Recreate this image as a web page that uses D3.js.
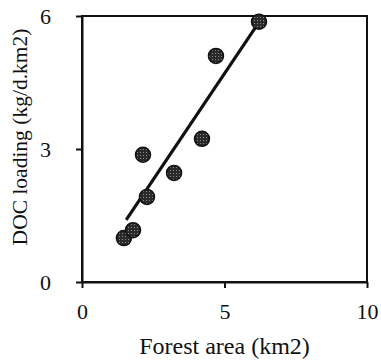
<!DOCTYPE html>
<html>
<head>
<meta charset="utf-8">
<script src="https://cdn.jsdelivr.net/npm/d3@7"></script>
<style>
  body { margin: 0; background: #fff; }
  text { font-family: "Liberation Serif", "Times New Roman", serif; fill: #111; }
</style>
</head>
<body>
<svg id="chart" width="381" height="363"></svg>
<script>
// data
var forestArea = [1.47, 1.79, 2.14, 2.28, 3.23, 4.21, 4.70, 6.21];
var docLoading = [0.99, 1.17, 2.87, 1.92, 2.46, 3.23, 5.10, 5.87];
var fitX = [1.55, 6.2];
var fitY = [1.40, 5.85];
var xTicks = [0, 5, 10];
var yTicks = [0, 3, 6];

var serif = '"Liberation Serif", "Times New Roman", serif';

var svg = d3.select("#chart"),
    margin = {top: 16, right: 14, bottom: 81, left: 82},
    width = +svg.attr("width") - margin.left - margin.right,
    height = +svg.attr("height") - margin.top - margin.bottom;

var x = d3.scaleLinear().domain([0, 10]).range([0, width]);
var y = d3.scaleLinear().domain([0, 6]).range([height, 0]);

var g = svg.append("g")
    .attr("transform", "translate(" + margin.left + "," + margin.top + ")");

// frame
g.append("rect")
    .attr("width", width)
    .attr("height", height)
    .attr("fill", "none")
    .attr("stroke", "#111")
    .attr("stroke-width", 2);

// axes
var xAxis = g.append("g")
    .attr("transform", "translate(0," + height + ")")
    .call(d3.axisBottom(x).tickValues(xTicks).tickFormat(d3.format("d"))
        .tickSize(6).tickSizeOuter(0).tickPadding(15));
var yAxis = g.append("g")
    .call(d3.axisLeft(y).tickValues(yTicks).tickFormat(d3.format("d"))
        .tickSize(6).tickSizeOuter(0).tickPadding(25));

[xAxis, yAxis].forEach(function (a) {
    a.attr("font-family", serif).attr("font-size", 22);
    a.select(".domain").attr("stroke", "#111").attr("stroke-width", 2);
    a.selectAll(".tick line").attr("stroke", "#111").attr("stroke-width", 2);
    a.selectAll(".tick text").attr("fill", "#111");
});

// fitted line
g.append("line")
    .attr("x1", x(fitX[0])).attr("y1", y(fitY[0]))
    .attr("x2", x(fitX[1])).attr("y2", y(fitY[1]))
    .attr("stroke", "#111")
    .attr("stroke-width", 3.2);

// dotted texture for the markers
var defs = svg.append("defs");
var pat = defs.append("pattern")
    .attr("id", "dots")
    .attr("width", 3).attr("height", 3)
    .attr("patternUnits", "userSpaceOnUse");
pat.append("rect").attr("width", 3).attr("height", 3).attr("fill", "#2a2a2a");
pat.append("rect").attr("x", 1).attr("y", 1).attr("width", 1).attr("height", 1).attr("fill", "#8a8a8a");

g.selectAll("circle.pt")
    .data(forestArea)
    .enter()
    .append("circle")
    .attr("class", "pt")
    .attr("cx", function (d) { return x(d); })
    .attr("cy", function (d, i) { return y(docLoading[i]); })
    .attr("r", 7.5)
    .attr("fill", "url(#dots)")
    .attr("stroke", "#111")
    .attr("stroke-width", 1.5);

// titles
svg.append("text")
    .attr("x", margin.left + width / 2)
    .attr("y", 354)
    .attr("text-anchor", "middle")
    .style("font-size", "24px")
    .text("Forest area (km2)");

svg.append("text")
    .attr("transform", "translate(27," + 137 + ") rotate(-90)")
    .attr("text-anchor", "middle")
    .style("font-size", "21.5px")
    .text("DOC loading (kg/d.km2)");
</script>
</body>
</html>
